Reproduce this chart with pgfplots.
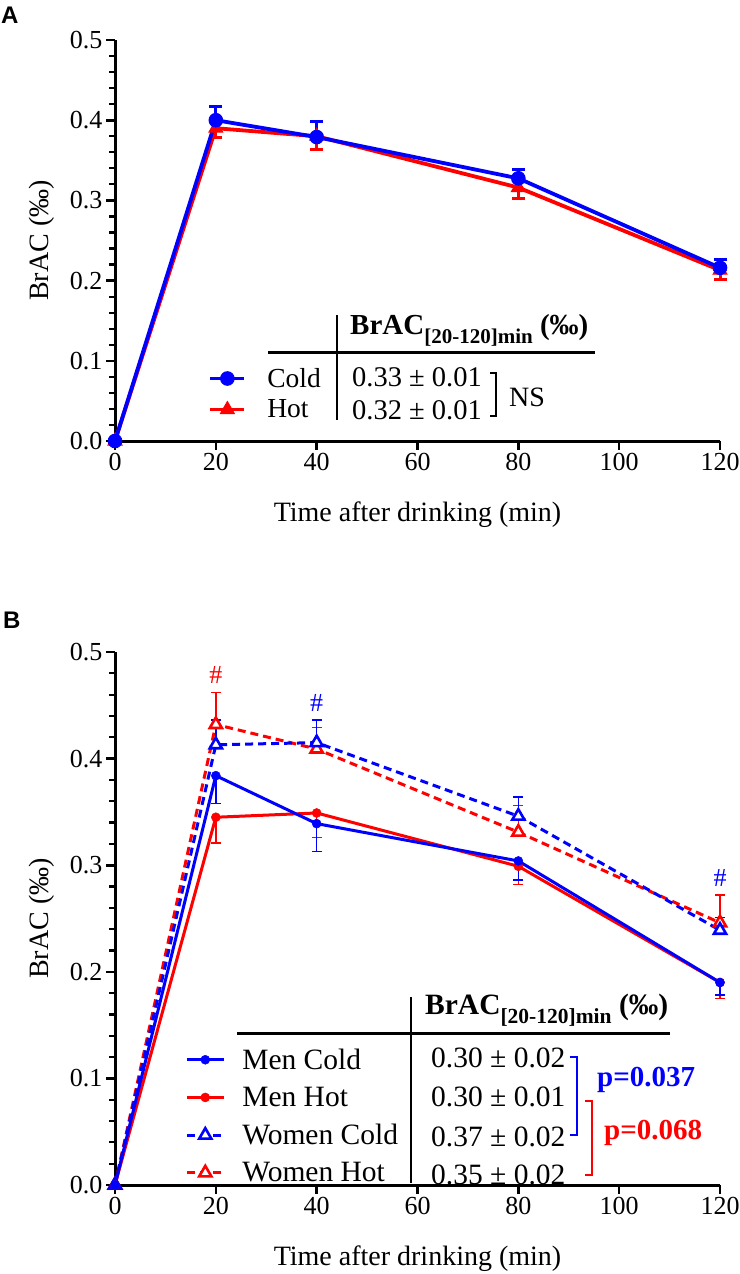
\documentclass[border=0pt]{standalone}
\usepackage{pgfplots}
\pgfplotsset{compat=1.18}
\usepackage{fontspec}
\setmainfont{Liberation Serif}
\newfontfamily\panelfont{Liberation Sans}
\definecolor{myblue}{RGB}{0,0,255}
\definecolor{myred}{RGB}{255,0,0}

\pgfplotsset{
  brac/.style={
    scale only axis,
    width=605pt,
    xmin=0, xmax=120, ymin=0, ymax=0.5,
    axis lines=left,
    axis line style={line width=3pt, -},
    xtick={0,20,40,60,80,100,120},
    ytick={0,0.1,0.2,0.3,0.4,0.5},
    minor y tick num=4,
    tick align=outside,
    major tick length=9pt,
    minor tick length=6pt,
    major tick style={black, line width=2.6pt},
    minor tick style={black, line width=2.2pt},
    /pgf/number format/assume math mode=true,
    yticklabel style={/pgf/number format/fixed, /pgf/number format/precision=1, /pgf/number format/fixed zerofill},
    tick label style={font=\fontsize{26}{30}\selectfont},
    label style={font=\fontsize{28}{32}\selectfont},
    xlabel={Time after drinking (min)},
    ylabel={BrAC (‰)},
    ylabel style={at={(axis description cs:-0.1,0.5)}, anchor=south, inner sep=0pt},
    clip=false,
    legend cell align=left,
    reverse legend,
  }
}

\begin{document}
\begin{tikzpicture}
\useasboundingbox (0,0) rectangle (739pt,-1274pt);

% ---------------- Panel A ----------------
\begin{axis}[brac, height=401pt, at={(115pt,-441pt)}, anchor=south west,
  xlabel style={at={(axis description cs:0.5,0)}, anchor=north, yshift=-61pt, inner sep=0pt},
  legend image code/.code={\draw[mark repeat=2,mark phase=2] plot coordinates {(0pt,0pt) (17pt,0pt) (34pt,0pt)};},
  legend style={draw=none, fill=none, at={(axis cs:18.5,0.091)}, anchor=north west, inner sep=0pt,
    font=\fontsize{27.5}{30}\selectfont, row sep=11pt, nodes={inner sep=0pt},
    /tikz/every odd column/.append style={column sep=21pt}},
]
\addplot[myred, line width=3.8pt, mark=triangle*, mark size=8pt, mark options={solid, fill=myred, line width=1pt},
  error bars/.cd, y dir=minus, y explicit,
  error bar style={line width=3pt, myred},
  error mark options={rotate=90, line width=3pt, mark size=6.5pt, myred}]
  table[x=t, y=v, y error=e] {
t v e
0 0 0
20 0.390 0.012
40 0.380 0.016
80 0.316 0.013
120 0.213 0.012
};
\addlegendentry{Hot}
\addplot[myblue, line width=3.8pt, mark=*, mark size=6.8pt, mark options={solid, fill=myblue, line width=1pt},
  error bars/.cd, y dir=plus, y explicit,
  error bar style={line width=3pt, myblue},
  error mark options={rotate=90, line width=3pt, mark size=6.5pt, myblue}]
  table[x=t, y=v, y error=e] {
t v e
0 0 0
20 0.400 0.0175
40 0.379 0.019
80 0.3275 0.011
120 0.216 0.010
};
\addlegendentry{Cold}
\end{axis}

% ---------------- Panel B ----------------
\begin{axis}[brac, height=533pt, at={(115pt,-1185pt)}, anchor=south west,
  xlabel style={at={(axis description cs:0.5,0)}, anchor=north, yshift=-61pt, inner sep=0pt},
  legend image code/.code={\draw[mark repeat=2,mark phase=2] plot coordinates {(0pt,0pt) (18.5pt,0pt) (37pt,0pt)};},
  legend style={draw=none, fill=none, at={(axis cs:13.9,0.128)}, anchor=north west, inner sep=0pt,
    font=\fontsize{29.5}{32}\selectfont, row sep=16.3pt, nodes={inner sep=0pt},
    /tikz/every odd column/.append style={column sep=17pt}},
]
\addplot[myred, line width=3pt, dash pattern=on 8pt off 5pt, mark=triangle*, mark size=7pt,
  mark options={solid, fill=white, line width=2.6pt},
  error bars/.cd, y dir=plus, y explicit,
  error bar style={line width=1.6pt, myred, solid},
  error mark options={rotate=90, line width=1.6pt, mark size=5pt, myred, solid}]
  table[x=t, y=v, y error=e] {
t v e
0 0 0
20 0.432 0.030
40 0.409 0.020
80 0.331 0.025
120 0.246 0.026
};
\addlegendentry{Women Hot}
\addplot[myblue, line width=3pt, dash pattern=on 8pt off 5pt, mark=triangle*, mark size=7pt,
  mark options={solid, fill=white, line width=2.6pt},
  error bars/.cd, y dir=plus, y explicit,
  error bar style={line width=1.6pt, myblue, solid},
  error mark options={rotate=90, line width=1.6pt, mark size=5pt, myblue, solid}]
  table[x=t, y=v, y error=e] {
t v e
0 0 0
20 0.413 0.023
40 0.415 0.021
80 0.346 0.018
120 0.239 0.012
};
\addlegendentry{Women Cold}
\addplot[myred, line width=3pt, mark=*, mark size=4.5pt, mark options={solid, fill=myred, line width=0.5pt},
  error bars/.cd, y dir=minus, y explicit,
  error bar style={line width=1.6pt, myred},
  error mark options={rotate=90, line width=1.6pt, mark size=5pt, myred}]
  table[x=t, y=v, y error=e] {
t v e
0 0 0
20 0.345 0.024
40 0.349 0.023
80 0.299 0.017
120 0.190 0.015
};
\addlegendentry{Men Hot}
\addplot[myblue, line width=3pt, mark=*, mark size=4.5pt, mark options={solid, fill=myblue, line width=0.5pt},
  error bars/.cd, y dir=minus, y explicit,
  error bar style={line width=1.6pt, myblue},
  error mark options={rotate=90, line width=1.6pt, mark size=5pt, myblue}]
  table[x=t, y=v, y error=e] {
t v e
0 0 0
20 0.384 0.026
40 0.339 0.026
80 0.304 0.018
120 0.190 0.012
};
\addlegendentry{Men Cold}
\node[myred, font=\fontsize{26}{28}\selectfont] at (axis cs:20,0.478) {\#};
\node[myblue, font=\fontsize{26}{28}\selectfont] at (axis cs:40,0.452) {\#};
\node[myblue, font=\fontsize{26}{28}\selectfont] at (axis cs:120,0.288) {\#};
\end{axis}

% ---------------- annotations (pixel coordinates) ----------------
\begin{scope}[x=1pt, y=-1pt]
\node[anchor=west, inner sep=0pt, font=\panelfont\bfseries\fontsize{24}{26}\selectfont] at (1,15) {A};
\node[anchor=west, inner sep=0pt, font=\panelfont\bfseries\fontsize{24}{26}\selectfont] at (3,620) {B};

% Panel A table
\draw[line width=3pt] (268,352) -- (595,352);
\draw[line width=1.6pt] (337,315) -- (337,420);
\node[anchor=west, inner sep=0pt, font=\fontsize{29}{32}\selectfont\bfseries] at (350,330)
  {BrAC\raisebox{-0.3em}{\fontsize{21}{22}\selectfont [20-120]min} (‰)};
\node[anchor=west, inner sep=0pt, font=\fontsize{28.5}{30}\selectfont] at (352,377) {0.33 ± 0.01};
\node[anchor=west, inner sep=0pt, font=\fontsize{28.5}{30}\selectfont] at (352,410) {0.32 ± 0.01};
\draw[line width=2.5pt] (490,373) -- (496,373) -- (496,416) -- (490,416);
\node[anchor=west, inner sep=0pt, font=\fontsize{28}{30}\selectfont] at (509,397) {NS};

% Panel B table
\draw[line width=3pt] (237,1033) -- (670,1033);
\draw[line width=1.6pt] (411,997) -- (411,1183);
\node[anchor=west, inner sep=0pt, font=\fontsize{29.5}{32}\selectfont\bfseries] at (425,1010)
  {BrAC\raisebox{-0.3em}{\fontsize{21.5}{22}\selectfont [20-120]min} (‰)};
\node[anchor=west, inner sep=0pt, font=\fontsize{29.5}{32}\selectfont] at (431,1058) {0.30 ± 0.02};
\node[anchor=west, inner sep=0pt, font=\fontsize{29.5}{32}\selectfont] at (431,1097) {0.30 ± 0.01};
\node[anchor=west, inner sep=0pt, font=\fontsize{29.5}{32}\selectfont] at (431,1137) {0.37 ± 0.02};
\node[anchor=west, inner sep=0pt, font=\fontsize{29.5}{32}\selectfont] at (431,1175) {0.35 ± 0.02};
\draw[myblue, line width=2.5pt] (570,1057) -- (577,1057) -- (577,1135) -- (570,1135);
\node[anchor=west, inner sep=0pt, myblue, font=\fontsize{29}{32}\selectfont\bfseries] at (597,1080) {p=0.037};
\draw[myred, line width=2.5pt] (585,1101) -- (592,1101) -- (592,1175) -- (585,1175);
\node[anchor=west, inner sep=0pt, myred, font=\fontsize{29}{32}\selectfont\bfseries] at (604,1133) {p=0.068};
\end{scope}
\end{tikzpicture}
\end{document}
